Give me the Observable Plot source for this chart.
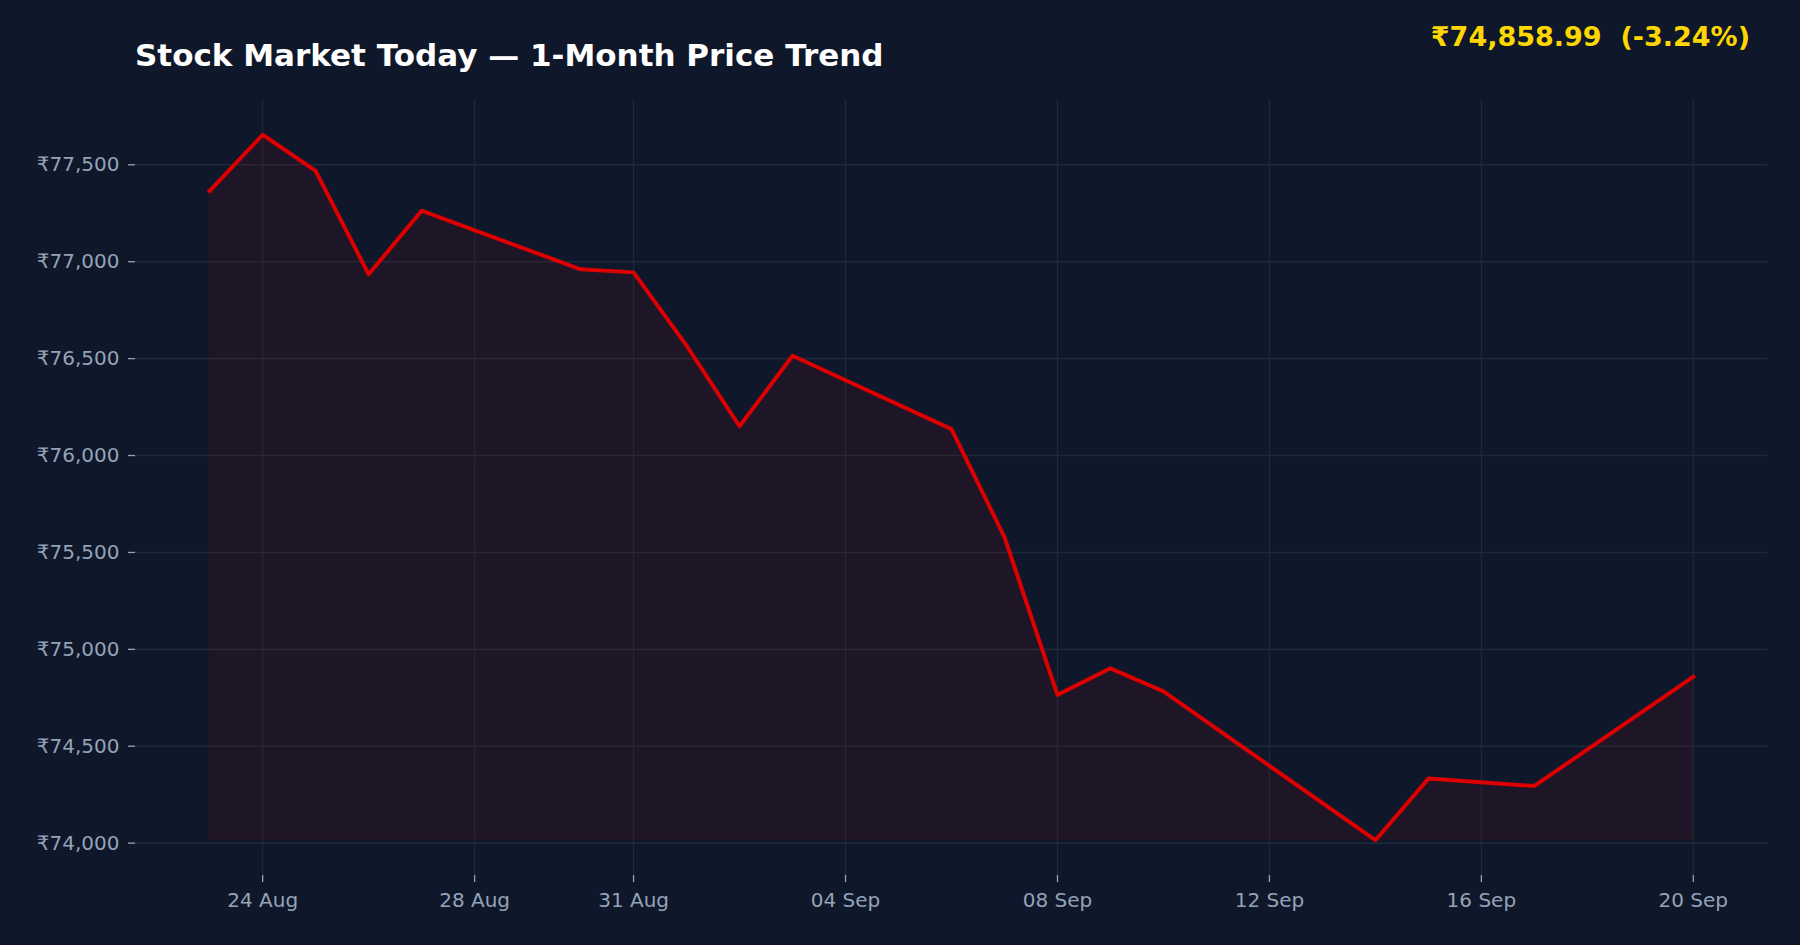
<!DOCTYPE html>
<html>
<head>
<meta charset="utf-8">
<script src="https://cdn.jsdelivr.net/npm/d3@7"></script>
<script src="https://cdn.jsdelivr.net/npm/@observablehq/plot@0.6"></script>
<style>
  html, body { margin: 0; padding: 0; background: #0f172a; }
  #wrap { position: relative; width: 1800px; height: 945px; background: #0f172a; overflow: hidden; }
  #title { position: absolute; left: 135px; top: 40px; font: bold 31px/1 "DejaVu Sans", sans-serif; color: #ffffff; white-space: pre; }
  #price { position: absolute; right: 50px; top: 23px; font: bold 27px/1 "DejaVu Sans", sans-serif; color: #ffd700; white-space: pre; }
  #chart { position: absolute; left: 0; top: 0; }
</style>
</head>
<body>
<div id="wrap">
  <div id="chart"></div>
  <div id="title">Stock Market Today — 1-Month Price Trend</div>
  <div id="price">₹74,858.99  (-3.24%)</div>
</div>
<script>
// Data
const dates = ["2024-08-23","2024-08-24","2024-08-25","2024-08-26","2024-08-27","2024-08-30","2024-08-31",
               "2024-09-01","2024-09-02","2024-09-03","2024-09-06","2024-09-07","2024-09-08","2024-09-09",
               "2024-09-10","2024-09-14","2024-09-15","2024-09-17","2024-09-20"];
const prices = [77365, 77655, 77469, 76935, 77263, 76961, 76945,
                76567, 76151, 76515, 76136, 75579, 74765, 74902,
                74783, 74015, 74333, 74295, 74858.99];
const xTickDates = ["2024-08-24","2024-08-28","2024-08-31","2024-09-04","2024-09-08","2024-09-12","2024-09-16","2024-09-20"];
const yTicks = [74000, 74500, 75000, 75500, 76000, 76500, 77000, 77500];

const data = dates.map((d, i) => ({date: new Date(d + "T00:00:00Z"), price: prices[i]}));
const xTicks = xTickDates.map(d => new Date(d + "T00:00:00Z"));

const minP = d3.min(prices), maxP = d3.max(prices);
const padY = (maxP - minP) * 0.05;
const t0 = data[0].date.getTime(), t1 = data[data.length - 1].date.getTime();
const padX = (t1 - t0) * 0.05;

const lineColor = "#dc0000";
const gridColor = "#1e293b";

const chart = Plot.plot({
  width: 1800,
  height: 945,
  marginTop: 99,
  marginBottom: 70,
  marginLeft: 135,
  marginRight: 33,
  style: {background: "transparent", color: "#94a3b8", fontFamily: "DejaVu Sans, sans-serif", fontSize: "20px"},
  x: {type: "utc", domain: [new Date(t0 - padX), new Date(t1 + padX)]},
  y: {domain: [minP - padY, maxP + padY]},
  marks: [
    Plot.gridY(yTicks, {stroke: gridColor, strokeOpacity: 1, strokeWidth: 1.6}),
    Plot.gridX(xTicks, {stroke: gridColor, strokeOpacity: 1, strokeWidth: 1.3}),
    Plot.areaY(data, {x: "date", y1: minP, y2: "price", fill: lineColor, fillOpacity: 0.08,
                      stroke: lineColor, strokeOpacity: 0.08, strokeWidth: 1}),
    Plot.lineY(data, {x: "date", y: "price", stroke: lineColor, strokeWidth: 4,
                      strokeLinejoin: "round", strokeLinecap: "square"}),
    Plot.axisY(yTicks, {tickSize: 7, tickPadding: 9, tickFormat: d => "₹" + d3.format(",")(d),
                        fontSize: 20, fill: "#94a3b8", stroke: "#94a3b8", strokeWidth: 1.3, label: null}),
    Plot.axisX(xTicks, {tickSize: 7, tickPadding: 10, tickFormat: d3.utcFormat("%d %b"),
                        fontSize: 20, fill: "#94a3b8", stroke: "#94a3b8", strokeWidth: 1.3, label: null})
  ]
});
document.getElementById("chart").appendChild(chart);
</script>
</body>
</html>
